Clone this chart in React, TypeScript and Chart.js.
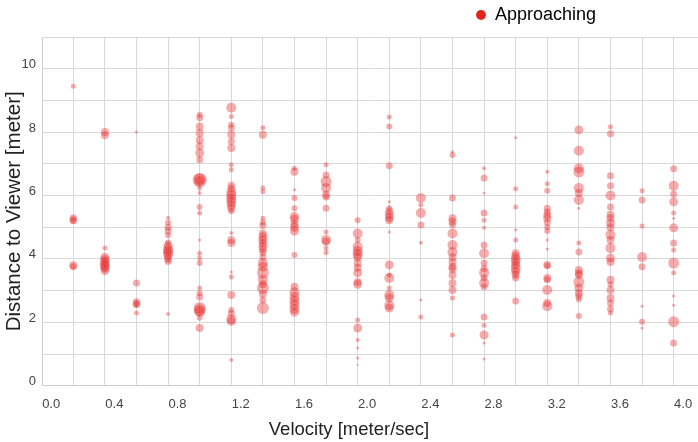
import { useEffect, useRef } from 'react';
import { Chart, registerables } from 'chart.js';

Chart.register(...registerables);

const FONT = '"Liberation Sans", Arial, Helvetica, sans-serif';

// x-axis tick labels (velocity, meter/sec)
const velocityTicks = [0.0, 0.4, 0.8, 1.2, 1.6, 2.0, 2.4, 2.8, 3.2, 3.6, 4.0];

// velocity columns where the measurements sit (also the vertical grid lines)
const columnVelocities = [
  0.14, 0.34, 0.54, 0.74, 0.94, 1.14, 1.34, 1.54, 1.74, 1.94,
  2.14, 2.34, 2.54, 2.74, 2.94, 3.14, 3.34, 3.54, 3.74, 3.94,
];

// y-axis labels shown (distance, meter)
const distanceTicks = [0, 2, 4, 6, 8, 10];

// one list per velocity column: [distance to viewer, bubble size]
const bubbles: [number, number][][] = [
  [[9.45, 2.5], [5.3, 3.5], [5.22, 4], [5.2, 3], [3.8, 4], [3.75, 3.5]],
  [[8.0, 4], [7.9, 4], [4.34, 2.5], [4.05, 4.5], [3.98, 4.5], [3.9, 5], [3.83, 4.5], [3.76, 5], [3.7, 4.5], [3.62, 4]],
  [[8.0, 1.5], [3.24, 3.5], [2.65, 3.5], [2.58, 4], [2.55, 3], [2.29, 2.5]],
  [[5.3, 2], [5.15, 3], [5.0, 3.5], [4.88, 3.5], [4.75, 3], [4.52, 3], [4.42, 4.5], [4.32, 5], [4.25, 5], [4.18, 5], [4.1, 4.5], [4.0, 4], [3.92, 3.5], [2.26, 2]],
  [[8.55, 3], [8.45, 3.5], [8.18, 4], [7.97, 4], [7.75, 4], [7.55, 4], [7.34, 4.5], [7.13, 3.5], [6.52, 6], [6.48, 7], [6.45, 5], [6.24, 2.5], [6.08, 2], [5.64, 3], [5.45, 2.5], [4.6, 1.5], [4.18, 2.5], [4.03, 2.5], [3.87, 3], [3.08, 2.5], [2.92, 3], [2.8, 3.5], [2.45, 6], [2.38, 6], [2.33, 5], [2.14, 3], [1.82, 4]],
  [[8.77, 5], [8.49, 2.5], [8.23, 3], [8.13, 3.5], [7.92, 4], [7.7, 3.5], [7.5, 4], [6.97, 2.5], [6.81, 2.5], [6.33, 3.5], [6.22, 4], [6.1, 5], [6.0, 5], [5.9, 5], [5.8, 5], [5.7, 4.5], [5.6, 4], [5.5, 3], [4.82, 2], [4.6, 4], [4.5, 4], [3.59, 1.5], [3.43, 2.5], [2.86, 4], [2.39, 3], [2.28, 3.5], [2.1, 5], [2.03, 4.5], [0.81, 2]],
  [[8.14, 2.5], [7.92, 4], [6.24, 2.5], [6.12, 2.5], [5.28, 2.5], [5.15, 3], [5.05, 3.5], [4.8, 4], [4.7, 4.5], [4.6, 4.5], [4.5, 4], [4.4, 4.5], [4.3, 4], [4.2, 3.5], [4.05, 3.5], [3.87, 5], [3.75, 5], [3.56, 6], [3.34, 5], [3.2, 4], [3.08, 6], [2.9, 4], [2.7, 3.5], [2.45, 6]],
  [[6.86, 2.5], [6.75, 4], [6.18, 1.5], [5.92, 3], [5.6, 3], [5.34, 4.5], [5.25, 4.5], [5.1, 4], [5.0, 4.5], [4.88, 4.5], [4.12, 3], [3.12, 4], [2.95, 5], [2.8, 5], [2.68, 5], [2.55, 5], [2.42, 5], [2.32, 4.5]],
  [[6.97, 2.5], [6.65, 3.5], [6.44, 5.5], [6.24, 5], [6.02, 4], [5.95, 3.5], [5.6, 3.5], [4.85, 2.5], [4.6, 5], [4.55, 4], [4.34, 2.5], [4.2, 2.5]],
  [[5.22, 3], [4.8, 5], [4.6, 3], [4.38, 5], [4.25, 5], [4.15, 5], [4.06, 4.5], [3.87, 4], [3.72, 4], [3.56, 4.5], [3.27, 4], [3.2, 4.5], [2.07, 2.5], [1.82, 4.5], [1.44, 2], [1.19, 1.5], [0.87, 1.5], [0.65, 1]],
  [[8.48, 2.5], [8.18, 3], [6.94, 3.5], [5.8, 1.5], [5.6, 3], [5.5, 4], [5.4, 4.5], [5.3, 4.5], [5.22, 4], [4.85, 1.5], [3.81, 4.5], [3.49, 2.5], [3.4, 5], [3.08, 2.5], [2.86, 5], [2.77, 4.5], [2.54, 5], [2.45, 4.5]],
  [[5.92, 5], [5.7, 2.5], [5.45, 5], [5.07, 3.5], [4.51, 2], [2.7, 1.5], [2.17, 2.5]],
  [[7.38, 1.5], [7.28, 3], [5.92, 3.5], [5.28, 4], [5.18, 4], [5.08, 3.5], [4.8, 5], [4.44, 5], [4.22, 5], [4.05, 4], [3.9, 4], [3.75, 4], [3.68, 4], [3.49, 4], [3.24, 4], [3.02, 4], [2.77, 2.5], [1.6, 2.5]],
  [[6.86, 2], [6.55, 3.5], [6.08, 1.5], [5.45, 3.5], [5.22, 2.5], [4.98, 2], [4.44, 3.5], [4.18, 5], [3.87, 3.5], [3.7, 3.5], [3.56, 5], [3.4, 3.5], [3.24, 5], [3.12, 3.5], [2.17, 3.5], [1.91, 2.5], [1.6, 4.5], [1.35, 1.5], [0.84, 1.5]],
  [[7.82, 1.5], [6.21, 2.5], [5.64, 2.5], [4.92, 1.5], [4.6, 2.5], [4.18, 4], [4.08, 4.5], [3.98, 5], [3.9, 4.5], [3.8, 4.5], [3.7, 5], [3.6, 4.5], [3.5, 4], [3.4, 3.5], [2.67, 3.5]],
  [[6.75, 2], [6.37, 2.5], [6.15, 3], [5.6, 3.5], [5.48, 3.5], [5.38, 4], [5.28, 4], [5.15, 3.5], [5.0, 3], [4.88, 3], [4.6, 1.5], [4.31, 1.5], [3.81, 4], [3.78, 3], [3.4, 4], [3.34, 3.5], [3.02, 5], [2.61, 4], [2.51, 5]],
  [[8.07, 4.5], [7.41, 5], [6.86, 5], [6.74, 5.5], [6.24, 5], [6.08, 4], [5.86, 5], [5.6, 1.5], [4.5, 2.5], [4.22, 3.5], [3.65, 4], [3.55, 4], [3.49, 4], [3.27, 5.5], [3.08, 4.5], [2.92, 4], [2.82, 3.5], [2.72, 3], [2.2, 3]],
  [[8.17, 2.5], [7.95, 3.5], [6.62, 3.5], [6.31, 3.5], [6.0, 5], [5.64, 3.5], [5.39, 4], [5.28, 4], [5.13, 4.5], [5.0, 4], [4.76, 5], [4.6, 4], [4.34, 5], [4.03, 4.5], [3.9, 4], [3.34, 4], [3.2, 3], [3.02, 4], [2.77, 4], [2.61, 3.5], [2.42, 3.5], [2.29, 2.5]],
  [[6.15, 2.5], [5.86, 3.5], [5.04, 2.5], [4.06, 5], [3.75, 3.5], [2.51, 1.5], [2.02, 3], [1.82, 1.5]],
  [[6.84, 3.5], [6.31, 5], [6.05, 3.5], [5.8, 4.5], [5.45, 2.5], [5.28, 1.5], [4.98, 4.5], [4.5, 3.5], [4.28, 2.5], [3.87, 5.5], [3.56, 2.5], [2.83, 1.5], [2.54, 1.5], [2.02, 5.5], [1.35, 3.5]],
];

const SERIES_LABEL = 'Approaching';
const POINT_COLOR = 'rgba(232, 36, 36, 0.38)';
const LEGEND_COLOR = '#e0261f';
const GRID_COLOR = '#d8d8d8';

const legendPlacement = {
  id: 'legendPlacement',
  beforeLayout(chart: any) {
    const lg = chart.legend;
    if (lg && !lg.__patched) {
      const fit = lg.fit.bind(lg);
      lg.fit = () => {
        fit();
        lg.height += 3;
      };
      lg.__patched = true;
    }
  },
  afterLayout(chart: any) {
    const lg = chart.legend;
    if (lg) {
      const w = lg.right - lg.left;
      lg.left = 470;
      lg.right = 470 + w;
    }
  },
};

export default function App() {
  const ref = useRef<HTMLCanvasElement | null>(null);

  useEffect(() => {
    if (!ref.current) return;
    const data = columnVelocities.flatMap((v, i) =>
      bubbles[i].map(([d, r]) => ({ x: v, y: d, r }))
    );

    const chart = new Chart(ref.current, {
      type: 'bubble',
      data: {
        datasets: [
          {
            label: SERIES_LABEL,
            data,
            backgroundColor: POINT_COLOR,
            borderColor: POINT_COLOR,
            borderWidth: 0,
          },
        ],
      },
      plugins: [legendPlacement],
      options: {
        animation: false,
        responsive: false,
        events: [],
        layout: { padding: 0, autoPadding: false },
        scales: {
          x: {
            type: 'linear',
            min: -0.058,
            max: 4.094,
            afterBuildTicks: (scale: any) => {
              const vals = [...velocityTicks, ...columnVelocities].sort((a, b) => a - b);
              scale.ticks = vals.map((value) => ({ value }));
            },
            afterFit: (scale: any) => {
              scale.height = 33.1;
              scale.paddingLeft = 0;
              scale.paddingRight = 0;
            },
            ticks: {
              autoSkip: false,
              maxRotation: 0,
              minRotation: 0,
              padding: 11,
              color: '#444',
              font: { family: FONT, size: 13 },
              callback: (value: any) =>
                velocityTicks.includes(value) ? Number(value).toFixed(1) : '',
            },
            grid: {
              drawTicks: false,
              color: (ctx: any) =>
                ctx.tick && velocityTicks.includes(ctx.tick.value) ? 'rgba(0,0,0,0)' : GRID_COLOR,
            },
            border: { display: true, color: '#cfcfcf' },
            title: { display: false },
          },
          y: {
            type: 'linear',
            min: 0,
            max: 11,
            afterFit: (scale: any) => {
              scale.width = 42;
            },
            ticks: {
              stepSize: 1,
              padding: 6,
              labelOffset: -4,
              color: '#444',
              font: { family: FONT, size: 13 },
              callback: (value: any) =>
                distanceTicks.includes(value) ? String(value) : '',
            },
            grid: { drawTicks: false, color: GRID_COLOR },
            border: { display: true, color: '#cfcfcf' },
            title: {
              display: true,
              text: 'Distance to Viewer [meter]',
              color: '#222',
              font: { family: FONT, size: 20.5 },
              padding: { top: 2, bottom: 0 },
            },
          },
        },
        plugins: {
          tooltip: { enabled: false },
          legend: {
            display: true,
            position: 'top',
            align: 'start',
            labels: {
              usePointStyle: true,
              boxWidth: 10,
              boxHeight: 7,
              padding: 6,
              color: '#222',
              font: { family: FONT, size: 18 },
              generateLabels: () => [
                {
                  text: SERIES_LABEL,
                  fillStyle: LEGEND_COLOR,
                  strokeStyle: LEGEND_COLOR,
                  lineWidth: 0,
                  pointStyle: 'circle',
                  hidden: false,
                  datasetIndex: 0,
                } as any,
              ],
            },
          },
          title: {
            display: true,
            position: 'bottom',
            text: 'Velocity [meter/sec]',
            color: '#222',
            font: { family: FONT, size: 18.5, weight: 'normal' },
            padding: { top: 0, bottom: 1 },
          },
        },
      } as any,
    });

    return () => chart.destroy();
  }, []);

  return (
    <div style={{ position: 'absolute', left: 0, top: 0, width: 698, height: 442, background: '#fff' }}>
      <canvas ref={ref} width={698} height={442} style={{ display: 'block' }} />
    </div>
  );
}
